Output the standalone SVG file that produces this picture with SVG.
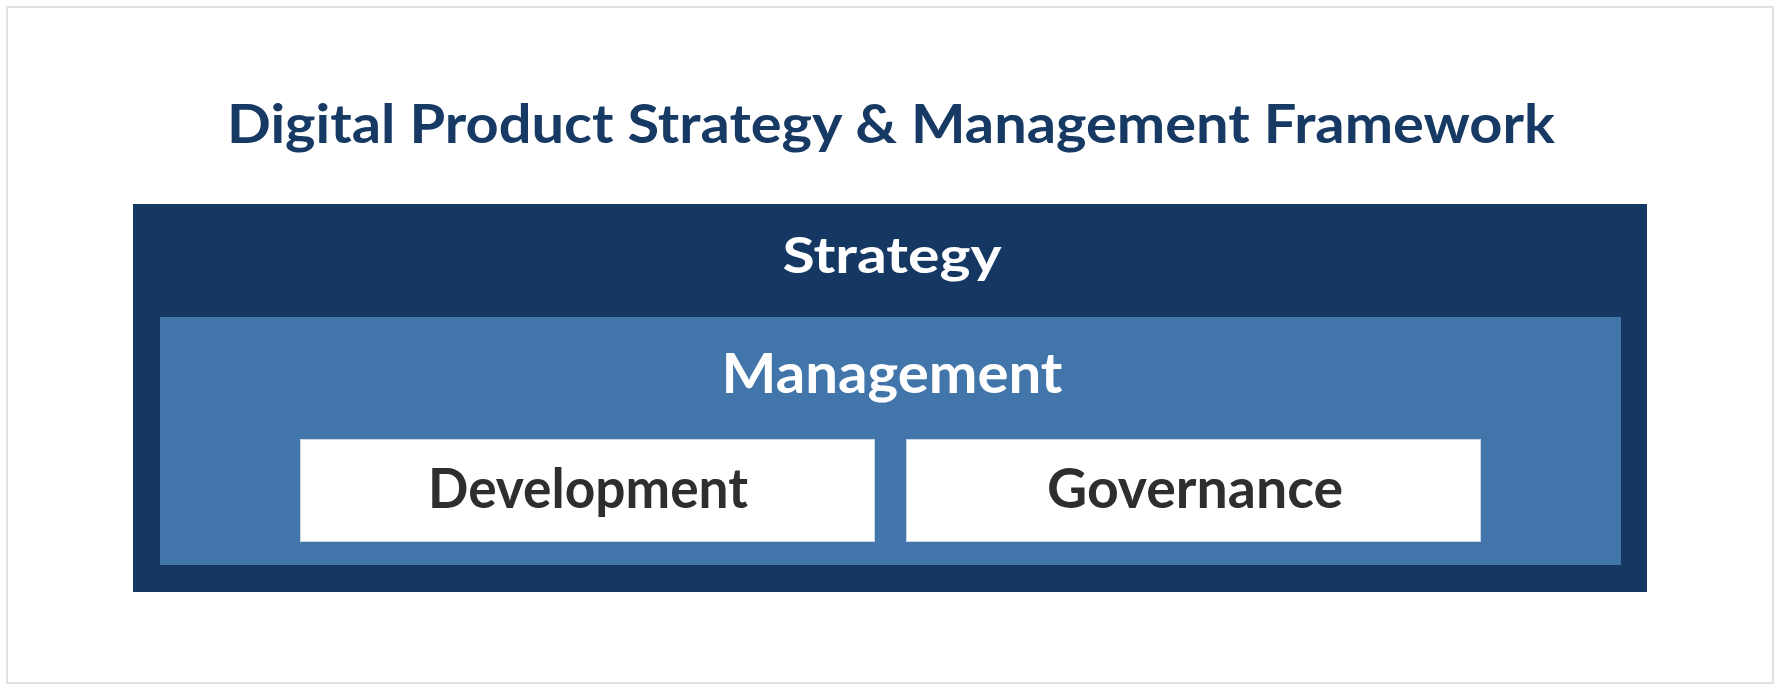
<svg xmlns="http://www.w3.org/2000/svg" width="1781" height="692" viewBox="0 0 1781 692">
  <style>
    .title { font-family: "Lato", "Open Sans", "Liberation Sans", sans-serif; font-weight: 700; fill: #173a64; }
    .lbl { font-family: "Lato", "Open Sans", "Liberation Sans", sans-serif; font-weight: 700; text-anchor: middle; }
    .white { fill: #ffffff; }
    .dark { fill: #2e2e2e; }
    .box { fill: #ffffff; stroke: #c9d6e3; stroke-width: 1; }
  </style>
  <rect x="0" y="0" width="1781" height="692" fill="#ffffff"/>
  <rect x="7" y="7" width="1766" height="676" fill="#ffffff" stroke="#e2e2e2" stroke-width="2"/>
  <text class="title" x="227" y="143" font-size="53" textLength="1328" lengthAdjust="spacingAndGlyphs">Digital Product Strategy &amp; Management Framework</text>
  <g id="strategy">
    <rect x="133" y="204" width="1514" height="388" fill="#153863"/>
    <text class="lbl white" x="892" y="273" font-size="50" textLength="219" lengthAdjust="spacingAndGlyphs">Strategy</text>
  </g>
  <g id="management">
    <rect x="160" y="317" width="1461" height="248" fill="#4276ab"/>
    <text class="lbl white" x="892" y="393" font-size="56" textLength="341" lengthAdjust="spacingAndGlyphs">Management</text>
  </g>
  <g id="development">
    <rect class="box" x="300.5" y="439.5" width="574" height="102"/>
    <text class="lbl dark" x="588" y="508" font-size="55" textLength="320" lengthAdjust="spacingAndGlyphs">Development</text>
  </g>
  <g id="governance">
    <rect class="box" x="906.5" y="439.5" width="574" height="102"/>
    <text class="lbl dark" x="1195" y="508" font-size="55" textLength="296" lengthAdjust="spacingAndGlyphs">Governance</text>
  </g>
  <g id="connectors"></g>
</svg>
